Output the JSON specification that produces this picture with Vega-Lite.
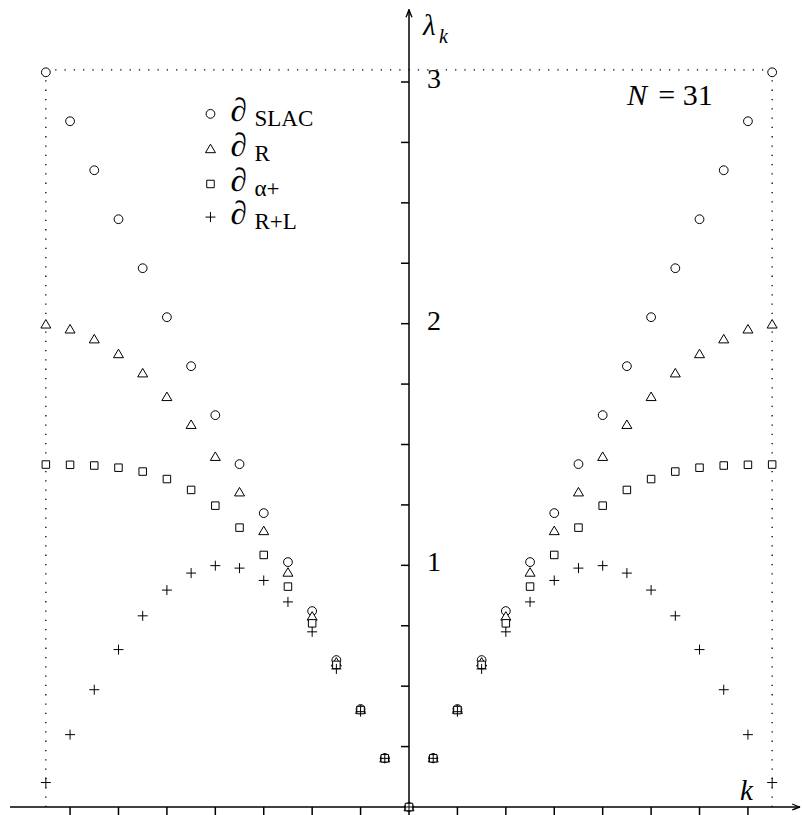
{
  "$schema": "https://vega.github.io/schema/vega-lite/v6.json",
  "width": 802,
  "height": 815,
  "autosize": {"type": "none"},
  "padding": 0,
  "background": "white",
  "config": {"view": {"stroke": null}, "axis": {"grid": false}},
  "data": {"values": [{}]},
  "datasets": {
    "eig": [
      {"k": -15, "SLAC": 3.0402, "R": 1.9974, "alpha": 1.417, "RL": 0.1012},
      {"k": -14, "SLAC": 2.8376, "R": 1.9769, "alpha": 1.416, "RL": 0.2994},
      {"k": -13, "SLAC": 2.6349, "R": 1.936, "alpha": 1.413, "RL": 0.4853},
      {"k": -12, "SLAC": 2.4322, "R": 1.8747, "alpha": 1.404, "RL": 0.6514},
      {"k": -11, "SLAC": 2.2295, "R": 1.7952, "alpha": 1.388, "RL": 0.791},
      {"k": -10, "SLAC": 2.0268, "R": 1.6973, "alpha": 1.357, "RL": 0.8976},
      {"k": -9, "SLAC": 1.8241, "R": 1.5819, "alpha": 1.312, "RL": 0.9679},
      {"k": -8, "SLAC": 1.6215, "R": 1.4496, "alpha": 1.247, "RL": 0.9987},
      {"k": -7, "SLAC": 1.4188, "R": 1.3027, "alpha": 1.156, "RL": 0.9885},
      {"k": -6, "SLAC": 1.2161, "R": 1.1425, "alpha": 1.043, "RL": 0.9374},
      {"k": -5, "SLAC": 1.0134, "R": 0.9706, "alpha": 0.912, "RL": 0.8486},
      {"k": -4, "SLAC": 0.8107, "R": 0.7887, "alpha": 0.76, "RL": 0.7248},
      {"k": -3, "SLAC": 0.608, "R": 0.5987, "alpha": 0.588, "RL": 0.5713},
      {"k": -2, "SLAC": 0.4054, "R": 0.4026, "alpha": 0.401, "RL": 0.3944},
      {"k": -1, "SLAC": 0.2027, "R": 0.2023, "alpha": 0.2015, "RL": 0.2013},
      {"k": 0, "SLAC": 0, "R": 0, "alpha": 0, "RL": 0},
      {"k": 1, "SLAC": 0.2027, "R": 0.2023, "alpha": 0.2015, "RL": 0.2013},
      {"k": 2, "SLAC": 0.4054, "R": 0.4026, "alpha": 0.401, "RL": 0.3944},
      {"k": 3, "SLAC": 0.608, "R": 0.5987, "alpha": 0.588, "RL": 0.5713},
      {"k": 4, "SLAC": 0.8107, "R": 0.7887, "alpha": 0.76, "RL": 0.7248},
      {"k": 5, "SLAC": 1.0134, "R": 0.9706, "alpha": 0.912, "RL": 0.8486},
      {"k": 6, "SLAC": 1.2161, "R": 1.1425, "alpha": 1.043, "RL": 0.9374},
      {"k": 7, "SLAC": 1.4188, "R": 1.3027, "alpha": 1.156, "RL": 0.9885},
      {"k": 8, "SLAC": 1.6215, "R": 1.4496, "alpha": 1.247, "RL": 0.9987},
      {"k": 9, "SLAC": 1.8241, "R": 1.5819, "alpha": 1.312, "RL": 0.9679},
      {"k": 10, "SLAC": 2.0268, "R": 1.6973, "alpha": 1.357, "RL": 0.8976},
      {"k": 11, "SLAC": 2.2295, "R": 1.7952, "alpha": 1.388, "RL": 0.791},
      {"k": 12, "SLAC": 2.4322, "R": 1.8747, "alpha": 1.404, "RL": 0.6514},
      {"k": 13, "SLAC": 2.6349, "R": 1.936, "alpha": 1.413, "RL": 0.4853},
      {"k": 14, "SLAC": 2.8376, "R": 1.9769, "alpha": 1.416, "RL": 0.2994},
      {"k": 15, "SLAC": 3.0402, "R": 1.9974, "alpha": 1.417, "RL": 0.1012}
    ],
    "xticks": [
      {"k": -14}, {"k": -12}, {"k": -10}, {"k": -8}, {"k": -6}, {"k": -4}, {"k": -2},
      {"k": 2}, {"k": 4}, {"k": 6}, {"k": 8}, {"k": 10}, {"k": 12}, {"k": 14}
    ],
    "yticks": [
      {"lam": 0.25, "label": ""}, {"lam": 0.5, "label": ""}, {"lam": 0.75, "label": ""},
      {"lam": 1, "label": "1"}, {"lam": 1.25, "label": ""}, {"lam": 1.5, "label": ""},
      {"lam": 1.75, "label": ""}, {"lam": 2, "label": "2"}, {"lam": 2.25, "label": ""},
      {"lam": 2.5, "label": ""}, {"lam": 2.75, "label": ""}, {"lam": 3, "label": "3"}
    ],
    "legend": [
      {"series": "SLAC", "sub": "SLAC", "lam": 2.868},
      {"series": "R", "sub": "R", "lam": 2.723},
      {"series": "alpha", "sub": "α+", "lam": 2.578},
      {"series": "RL", "sub": "R+L", "lam": 2.441}
    ]
  },
  "layer": [
    {
      "mark": {"type": "rule", "stroke": "black", "strokeWidth": 1.3, "strokeDash": [1.3, 8]},
      "encoding": {
        "x": {"datum": -15, "type": "quantitative", "axis": null, "scale": {"domain": [-16.894, 16.233], "nice": false, "zero": false}},
        "x2": {"datum": 15},
        "y": {"datum": 3.05, "type": "quantitative", "axis": null, "scale": {"domain": [-0.0331, 3.3393], "nice": false, "zero": false}}
      }
    },
    {
      "mark": {"type": "rule", "stroke": "black", "strokeWidth": 1.3, "strokeDash": [1.3, 8]},
      "encoding": {
        "x": {"datum": -15, "type": "quantitative", "axis": null},
        "y": {"datum": 0, "type": "quantitative", "axis": null},
        "y2": {"datum": 3.05}
      }
    },
    {
      "mark": {"type": "rule", "stroke": "black", "strokeWidth": 1.3, "strokeDash": [1.3, 8]},
      "encoding": {
        "x": {"datum": 15, "type": "quantitative", "axis": null},
        "y": {"datum": 0, "type": "quantitative", "axis": null},
        "y2": {"datum": 3.05}
      }
    },
    {
      "data": {"name": "xticks"},
      "mark": {"type": "rule", "stroke": "black", "strokeWidth": 1.5},
      "encoding": {
        "x": {"field": "k", "type": "quantitative", "axis": null},
        "y": {"datum": 0, "type": "quantitative", "axis": null},
        "y2": {"datum": -0.0331}
      }
    },
    {
      "data": {"name": "yticks"},
      "mark": {"type": "rule", "stroke": "black", "strokeWidth": 1.5},
      "encoding": {
        "x": {"datum": -0.33, "type": "quantitative", "axis": null},
        "x2": {"datum": 0},
        "y": {"field": "lam", "type": "quantitative", "axis": null}
      }
    },
    {
      "data": {"name": "yticks"},
      "mark": {"type": "text", "font": "Liberation Serif", "fontSize": 28, "align": "left", "baseline": "middle", "dy": -2, "color": "black"},
      "encoding": {
        "x": {"datum": 0.74, "type": "quantitative", "axis": null},
        "y": {"field": "lam", "type": "quantitative", "axis": null},
        "text": {"field": "label"}
      }
    },
    {
      "mark": {"type": "rule", "stroke": "black", "strokeWidth": 1.5},
      "encoding": {
        "x": {"datum": 0, "type": "quantitative", "axis": null},
        "y": {"datum": -0.0331, "type": "quantitative", "axis": null},
        "y2": {"datum": 3.3}
      }
    },
    {
      "mark": {"type": "rule", "stroke": "black", "strokeWidth": 1.5},
      "encoding": {
        "x": {"datum": -16.48, "type": "quantitative", "axis": null},
        "x2": {"datum": 16.15},
        "y": {"datum": 0, "type": "quantitative", "axis": null}
      }
    },
    {
      "mark": {"type": "point", "shape": "M-0.5,1.3Q-0.1,0.4 0,0Q0.1,0.4 0.5,1.3", "size": 144, "filled": false, "stroke": "black", "strokeWidth": 1.3, "opacity": 1},
      "encoding": {
        "x": {"datum": 0, "type": "quantitative", "axis": null},
        "y": {"datum": 3.3, "type": "quantitative", "axis": null}
      }
    },
    {
      "mark": {"type": "point", "shape": "M-0.5,1.3Q-0.1,0.4 0,0Q0.1,0.4 0.5,1.3", "size": 144, "filled": false, "stroke": "black", "strokeWidth": 1.3, "opacity": 1, "angle": 90},
      "encoding": {
        "x": {"datum": 16.15, "type": "quantitative", "axis": null},
        "y": {"datum": 0, "type": "quantitative", "axis": null}
      }
    },
    {
      "data": {"name": "eig"},
      "transform": [{"fold": ["SLAC", "R", "alpha", "RL"], "as": ["series", "lam"]}],
      "mark": {"type": "point", "filled": true, "fill": "white", "stroke": "black", "strokeWidth": 1, "size": 100, "opacity": 1},
      "encoding": {
        "x": {"field": "k", "type": "quantitative", "axis": null},
        "y": {"field": "lam", "type": "quantitative", "axis": null},
        "shape": {
          "field": "series", "type": "nominal", "legend": null,
          "scale": {
            "domain": ["SLAC", "R", "alpha", "RL"],
            "range": [
              "M-0.88,0A0.88,0.88 0 1,0 0.88,0A0.88,0.88 0 1,0 -0.88,0Z",
              "M0,-0.95L1,0.75L-1,0.75Z",
              "M-0.75,-0.75L0.75,-0.75L0.75,0.75L-0.75,0.75Z",
              "M-1,0L1,0M0,-1L0,1"
            ]
          }
        }
      }
    },
    {
      "data": {"name": "legend"},
      "mark": {"type": "point", "filled": true, "fill": "white", "stroke": "black", "strokeWidth": 1, "size": 100, "opacity": 1},
      "encoding": {
        "x": {"datum": -8.2, "type": "quantitative", "axis": null},
        "y": {"field": "lam", "type": "quantitative", "axis": null},
        "shape": {"field": "series", "type": "nominal", "legend": null}
      }
    },
    {
      "data": {"name": "legend"},
      "mark": {"type": "text", "text": "∂", "font": "Liberation Serif", "fontStyle": "italic", "fontSize": 33, "align": "left", "baseline": "alphabetic", "dx": 20, "dy": 7, "color": "black"},
      "encoding": {
        "x": {"datum": -8.2, "type": "quantitative", "axis": null},
        "y": {"field": "lam", "type": "quantitative", "axis": null}
      }
    },
    {
      "data": {"name": "legend"},
      "mark": {"type": "text", "font": "Liberation Serif", "fontSize": 23, "align": "left", "baseline": "alphabetic", "dx": 44, "dy": 12, "color": "black"},
      "encoding": {
        "x": {"datum": -8.2, "type": "quantitative", "axis": null},
        "y": {"field": "lam", "type": "quantitative", "axis": null},
        "text": {"field": "sub"}
      }
    },
    {
      "mark": {"type": "text", "text": "λ", "font": "Liberation Serif", "fontStyle": "italic", "fontSize": 29, "align": "left", "baseline": "alphabetic", "color": "black"},
      "encoding": {
        "x": {"datum": 0.58, "type": "quantitative", "axis": null},
        "y": {"datum": 3.194, "type": "quantitative", "axis": null}
      }
    },
    {
      "mark": {"type": "text", "text": "k", "font": "Liberation Serif", "fontStyle": "italic", "fontSize": 20, "align": "left", "baseline": "alphabetic", "color": "black"},
      "encoding": {
        "x": {"datum": 1.24, "type": "quantitative", "axis": null},
        "y": {"datum": 3.16, "type": "quantitative", "axis": null}
      }
    },
    {
      "mark": {"type": "text", "text": "k", "font": "Liberation Serif", "fontStyle": "italic", "fontSize": 29, "align": "left", "baseline": "alphabetic", "color": "black"},
      "encoding": {
        "x": {"datum": 13.67, "type": "quantitative", "axis": null},
        "y": {"datum": 0.029, "type": "quantitative", "axis": null}
      }
    },
    {
      "mark": {"type": "text", "text": "N", "font": "Liberation Serif", "fontStyle": "italic", "fontSize": 30, "align": "left", "baseline": "alphabetic", "color": "black"},
      "encoding": {
        "x": {"datum": 9.0, "type": "quantitative", "axis": null},
        "y": {"datum": 2.905, "type": "quantitative", "axis": null}
      }
    },
    {
      "mark": {"type": "text", "text": "= 31", "font": "Liberation Serif", "fontSize": 30, "align": "left", "baseline": "alphabetic", "color": "black"},
      "encoding": {
        "x": {"datum": 10.3, "type": "quantitative", "axis": null},
        "y": {"datum": 2.905, "type": "quantitative", "axis": null}
      }
    }
  ]
}
